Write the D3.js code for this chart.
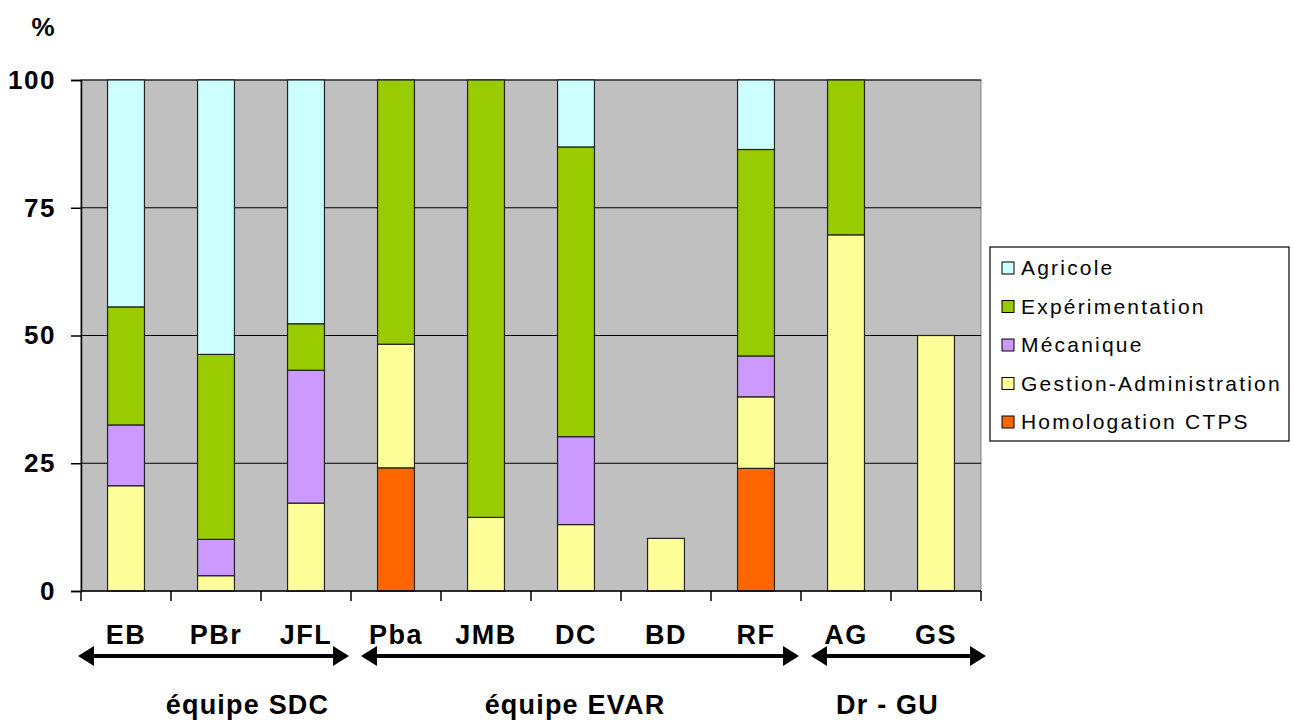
<!DOCTYPE html>
<html>
<head>
<meta charset="utf-8">
<script src="https://cdn.jsdelivr.net/npm/d3@7"></script>
<style>
  body { margin: 0; background: #fff; }
  svg text { font-family: Arial, "Liberation Sans", sans-serif; fill: #000; }
</style>
</head>
<body>
<svg id="chart" width="1294" height="720"></svg>
<script>
// people on the x axis
const people = ['EB', 'PBr', 'JFL', 'Pba', 'JMB', 'DC', 'BD', 'RF', 'AG', 'GS'];
// stack order, bottom to top
const seriesNames = ['Homologation CTPS', 'Gestion-Administration', 'Mécanique', 'Expérimentation', 'Agricole'];
const homologation    = [0, 0, 0, 24.1, 0, 0, 0, 24.0, 0, 0];
const gestion         = [20.6, 3.0, 17.2, 24.2, 14.4, 13.0, 10.3, 14.0, 69.7, 50];
const mecanique       = [11.9, 7.1, 26.0, 0, 0, 17.2, 0, 8.0, 0, 0];
const experimentation = [23.1, 36.2, 9.1, 51.7, 85.6, 56.7, 0, 40.4, 30.3, 0];
const agricole        = [44.4, 53.7, 47.7, 0, 0, 13.1, 0, 13.6, 0, 0];
const yTicks = [0, 25, 50, 75, 100];
const groupNames = ['équipe SDC', 'équipe EVAR', 'Dr - GU'];
const groupFirst = ['EB', 'Pba', 'AG'];
const groupLast  = ['JFL', 'RF', 'GS'];
// legend order (top to bottom)
const legendOrder = ['Agricole', 'Expérimentation', 'Mécanique', 'Gestion-Administration', 'Homologation CTPS'];

const colors = {
  'Agricole': '#ccffff',
  'Expérimentation': '#99cc00',
  'Mécanique': '#cc99ff',
  'Gestion-Administration': '#ffff99',
  'Homologation CTPS': '#ff6600'
};

const plot = { left: 81, right: 981, top: 80, bottom: 591 };

const svg = d3.select('#chart');

const table = people.map((p, i) => ({
  person: p,
  'Homologation CTPS': homologation[i],
  'Gestion-Administration': gestion[i],
  'Mécanique': mecanique[i],
  'Expérimentation': experimentation[i],
  'Agricole': agricole[i]
}));

const x = d3.scaleBand().domain(people).range([plot.left, plot.right]).paddingInner(0.59).paddingOuter(0.295);
const xCat = d3.scaleBand().domain(people).range([plot.left, plot.right]);
const y = d3.scaleLinear().domain([0, 100]).range([plot.bottom, plot.top]);

// plot background
svg.append('rect')
  .attr('x', plot.left).attr('y', plot.top)
  .attr('width', plot.right - plot.left).attr('height', plot.bottom - plot.top)
  .style('fill', '#c0c0c0')
  .style('stroke', '#808080')
  .style('stroke-width', 1);

// gridlines
svg.append('g')
  .selectAll('line')
  .data(yTicks.filter(t => t > 0))
  .enter()
  .append('line')
  .attr('x1', plot.left).attr('x2', plot.right)
  .attr('y1', d => y(d)).attr('y2', d => y(d))
  .style('stroke', '#000')
  .style('stroke-width', 1.2);

// bars
const stack = d3.stack().keys(seriesNames)(table);
svg.append('g')
  .selectAll('g')
  .data(stack)
  .enter()
  .append('g')
  .style('fill', d => colors[d.key])
  .selectAll('rect')
  .data(d => d.filter(s => s[1] - s[0] > 0))
  .enter()
  .append('rect')
  .attr('x', d => x(d.data.person))
  .attr('width', x.bandwidth())
  .attr('y', d => y(d[1]))
  .attr('height', d => y(d[0]) - y(d[1]))
  .style('stroke', '#222')
  .style('stroke-width', 1.2);

// y axis
const yAxis = svg.append('g')
  .attr('transform', `translate(${plot.left},0)`)
  .call(d3.axisLeft(y).tickValues(yTicks).tickSize(10).tickPadding(15));
yAxis.select('.domain').style('stroke', '#000').style('stroke-width', 1.5);
yAxis.selectAll('.tick line').style('stroke', '#000').style('stroke-width', 1.5);
yAxis.selectAll('.tick text')
  .style('font-size', '26px')
  .style('font-weight', 'bold')
  .style('letter-spacing', '1.5px')
  .attr('font-family', null);

svg.append('text')
  .attr('x', 43).attr('y', 36)
  .attr('text-anchor', 'middle')
  .style('font-size', '26px')
  .style('font-weight', 'bold')
  .text('%');

// x axis: ticks at category boundaries
const boundaries = people.map(p => xCat(p)).concat([plot.right]);
svg.append('line')
  .attr('x1', plot.left).attr('x2', plot.right)
  .attr('y1', plot.bottom).attr('y2', plot.bottom)
  .style('stroke', '#000').style('stroke-width', 1.5);
svg.append('g')
  .selectAll('line')
  .data(boundaries)
  .enter()
  .append('line')
  .attr('x1', d => d).attr('x2', d => d)
  .attr('y1', plot.bottom).attr('y2', plot.bottom + 10)
  .style('stroke', '#000').style('stroke-width', 1.5);

svg.append('g')
  .selectAll('text')
  .data(people)
  .enter()
  .append('text')
  .attr('x', d => xCat(d) + xCat.bandwidth() / 2)
  .attr('y', 644)
  .attr('text-anchor', 'middle')
  .style('font-size', '27px')
  .style('font-weight', 'bold')
  .style('letter-spacing', '1.5px')
  .text(d => d);

// group arrows
const arrowY = 656;
const labelNudge = [34, -5, -11];
groupNames.forEach((g, i) => {
  const x1 = xCat(groupFirst[i]) + (i === 0 ? -3 : 10);
  const x2 = xCat(groupLast[i]) + xCat.bandwidth() - (i === 2 ? -5 : 2);
  svg.append('line')
    .attr('x1', x1 + 12).attr('x2', x2 - 12)
    .attr('y1', arrowY).attr('y2', arrowY)
    .style('stroke', '#000').style('stroke-width', 4);
  svg.append('path')
    .attr('d', `M${x1},${arrowY} L${x1 + 16},${arrowY - 10} L${x1 + 16},${arrowY + 10} Z`)
    .style('fill', '#000');
  svg.append('path')
    .attr('d', `M${x2},${arrowY} L${x2 - 16},${arrowY - 10} L${x2 - 16},${arrowY + 10} Z`)
    .style('fill', '#000');
  svg.append('text')
    .attr('x', (x1 + x2) / 2 + labelNudge[i])
    .attr('y', 714)
    .attr('text-anchor', 'middle')
    .style('font-size', '27px')
    .style('font-weight', 'bold')
    .style('letter-spacing', '1.2px')
    .text(g);
});

// legend
const legend = svg.append('g').attr('transform', 'translate(990,247)');
legend.append('rect')
  .attr('width', 299).attr('height', 194)
  .style('fill', '#fff')
  .style('stroke', '#000')
  .style('stroke-width', 1.2);
const items = legend.selectAll('.item')
  .data(legendOrder)
  .enter()
  .append('g')
  .attr('class', 'item')
  .attr('transform', (d, i) => `translate(0, ${20 + i * 38.5})`);
items.append('rect')
  .attr('x', 12).attr('y', -5)
  .attr('width', 12).attr('height', 12)
  .style('fill', d => colors[d])
  .style('stroke', '#000')
  .style('stroke-width', 1);
items.append('text')
  .attr('x', 31).attr('y', 8)
  .style('font-size', '21px')
  .style('letter-spacing', '2.2px')
  .text(d => d);
</script>
</body>
</html>
